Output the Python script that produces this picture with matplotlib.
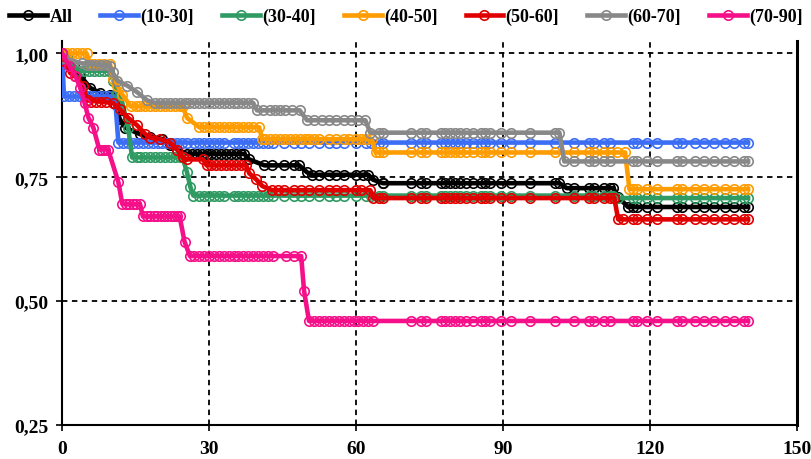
import matplotlib
matplotlib.use('Agg')
import matplotlib.pyplot as plt
from matplotlib.lines import Line2D

labels = ['All', '(10-30]', '(30-40]', '(40-50]', '(50-60]', '(60-70]', '(70-90]']
colors = ['#000000', '#3c6ef5', '#2f9a62', '#ff9c00', '#e10000', '#888888', '#f5108a']

x_ticks = [0, 30, 60, 90, 120, 150]
y_ticks = [0.25, 0.50, 0.75, 1.00]

late_a = [64.6, 65.6, 71.3, 73.3, 74.3, 77.4, 78.2, 79.2, 80.2, 81.2, 82.5, 83.9,
          85.5, 86.3, 87.3, 89.5, 91.6, 95.4, 100.5]
late_b = [104.5, 107.6, 108.6, 110.5, 111.9]
late_c = [116.5, 117.4, 119.4, 121.4, 125.4, 126.5, 129.1, 131.1, 133.1, 135.2,
          137.2, 139.2]

# ---- All ----
all_t = [0, 1, 2.5, 3.7, 5.8, 7.8, 9.8, 10.8, 11.8, 12.9, 15.9, 18, 20.5, 22, 23.5,
         25.5, 37.2, 38.2, 41.3, 48.4, 50, 51, 62.5, 63.5, 65.5, 101.5, 103, 112.5,
         113.5, 115.5, 140]
all_s = [1.0, 0.99, 0.975, 0.955, 0.93, 0.92, 0.917, 0.897, 0.867, 0.85, 0.837, 0.832,
         0.827, 0.816, 0.806, 0.797, 0.797, 0.786, 0.774, 0.774, 0.76, 0.755, 0.755,
         0.745, 0.738, 0.738, 0.728, 0.728, 0.71, 0.69, 0.69]
all_cens = [(0.797, [26.5, 27.5, 28.5, 29.5, 30.5, 31.5, 32.5, 33.5, 34.5, 35.5, 36.5]),
            (0.774, [42.9, 45.3, 47.4]),
            (0.755, [52.4, 54.5, 55.9, 57.5, 59.9, 61.5]),
            (0.738, late_a[1:]),
            (0.728, late_b),
            (0.69, late_c)]

# ---- (10-30] ----
b_t = [0, 0.4, 10.8, 11.5, 140]
b_s = [1.0, 0.913, 0.913, 0.82, 0.82]
b_cens = [(0.913, [1.5, 2.5, 3.5, 4.5, 5.5, 6.5, 7.5, 8.5, 9.5]),
          (0.82, [12.5, 13.5, 14.5, 15.5, 16.5, 17.5, 18.5, 19.5, 20.5, 21.5, 22.5, 23.5,
                  24.5, 25.5, 27, 28, 29, 30, 31, 32, 33, 35, 36, 37, 38, 39, 40, 41, 42,
                  43, 45.3, 47.4, 48.8, 50.4, 52.4, 54.5, 55.9, 57.5, 59.9, 62, 63]),
          (0.82, late_a), (0.82, late_b), (0.82, late_c)]

# ---- (30-40] ----
g_t = [0, 1, 3.5, 9.5, 10.5, 11.3, 12.3, 13.5, 14.3, 24.6, 25.5, 26.2, 26.8, 112.5,
       113.5, 140]
g_s = [1.0, 0.99, 0.965, 0.965, 0.945, 0.92, 0.9, 0.85, 0.79, 0.79, 0.76, 0.73, 0.713,
       0.713, 0.708, 0.708]
g_cens = [(0.965, [4.5, 5.5, 6.5, 7.5, 8.5]),
          (0.79, [15.2, 16, 17, 18, 19, 20, 21, 22, 23, 24]),
          (0.713, [28, 29, 30, 31, 32, 33, 35, 36, 37, 38, 39, 40, 41, 42, 43, 45.3,
                   47.4, 48.8, 50.4, 52.4, 54.5, 55.9, 57.5, 59.9, 62, 63]),
          (0.713, late_a), (0.713, late_b), (0.708, late_c)]

# ---- (40-50] ----
o_t = [0, 5.0, 5.7, 9.8, 10.4, 11.3, 12.3, 14, 24.6, 25.5, 28, 40.2, 40.9, 63.2, 64,
       114.9, 115.8, 140]
o_s = [1.0, 1.0, 0.978, 0.978, 0.948, 0.935, 0.917, 0.893, 0.893, 0.87, 0.851, 0.851,
       0.827, 0.827, 0.80, 0.80, 0.726, 0.726]
o_cens = [(1.0, [1, 2, 3, 4]),
          (0.978, [6.5, 7.5, 8.5]),
          (0.893, [15, 16, 17, 18, 19, 20, 21, 22, 23, 24]),
          (0.851, [29, 30, 31, 32, 33, 34, 35, 36, 37, 38, 39]),
          (0.827, [41.5, 42.5, 43.5, 44.5, 45.5, 46.5, 47.5, 48.5, 49.5, 50.5, 51.5, 52.5,
                   54.5, 55.9, 57.5, 58.5, 59.9, 61, 62]),
          (0.80, late_a), (0.80, late_b + [113.3]), (0.726, late_c)]

# ---- (50-60] ----
r_t = [0, 0.5, 1.7, 2.7, 4.2, 5.2, 10.4, 11.8, 13.5, 15.3, 17, 18, 20, 22, 23.5, 24.6,
       25.5, 28.8, 29.5, 37.6, 38.2, 39.6, 40.9, 42.9, 62.9, 63.5, 112.7, 113.5, 140]
r_s = [1.0, 0.985, 0.96, 0.955, 0.935, 0.905, 0.9, 0.887, 0.87, 0.855, 0.837, 0.83,
       0.827, 0.82, 0.806, 0.79, 0.786, 0.786, 0.774, 0.774, 0.758, 0.746, 0.732, 0.724,
       0.724, 0.708, 0.708, 0.665, 0.665]
r_cens = [(0.902, [6, 7, 8, 9]),
          (0.774, [30.5, 31.5, 32.5, 33.5, 34.5, 35.5, 36.5]),
          (0.724, [44, 45.3, 47.4, 48.8, 50.4, 52.4, 54.5, 55.9, 57.5, 59.9, 61]),
          (0.708, late_a), (0.708, late_b), (0.665, [114.5] + late_c)]

# ---- (60-70] ----
y_t = [0, 0.5, 4, 9.7, 10.3, 11.3, 13.3, 15.3, 17.4, 19, 39, 39.8, 48.5, 50, 61.9, 62.9,
       101.5, 102.5, 140]
y_s = [1.0, 0.99, 0.98, 0.975, 0.962, 0.945, 0.935, 0.922, 0.905, 0.90, 0.90, 0.885,
       0.885, 0.865, 0.865, 0.84, 0.84, 0.782, 0.782]
y_cens = [(0.977, [5, 6, 7, 8, 9]),
          (0.90, [20, 21, 22, 23, 24, 25, 26, 27, 28, 29, 30, 31, 32, 33, 34, 35, 36, 37,
                  38]),
          (0.885, [41, 42.5, 43.5, 44.5, 45.5, 47]),
          (0.865, [51.5, 53, 54.5, 56, 57.5, 59, 60.5]),
          (0.84, late_a), (0.782, late_b), (0.782, late_c)]

# ---- (70-90] ----
p_t = [0, 1.5, 2.7, 3.75, 4.6, 5.4, 6.4, 7.6, 9.4, 11.5, 12.3, 15.9, 16.5, 24.0, 25.0,
       26.1, 48.8, 49.4, 50.4, 140]
p_s = [1.0, 0.975, 0.955, 0.93, 0.90, 0.87, 0.85, 0.806, 0.806, 0.74, 0.696, 0.696,
       0.671, 0.671, 0.62, 0.591, 0.591, 0.52, 0.46, 0.46]
p_cens = [(0.806, [8.2, 8.8]),
          (0.696, [13, 13.7, 14.4, 15.1]),
          (0.671, [17.3, 18, 18.7, 19.4, 20.1, 20.8, 21.5, 22.2, 22.9, 23.5]),
          (0.591, [27, 28, 29, 30, 31, 32, 33, 34, 35, 36, 37, 38, 39, 40, 41, 42, 43,
                   45.7, 47.4]),
          (0.46, [51.5, 52.5, 53.5, 54.5, 55.5, 56.5, 57.5, 58.5, 59.5, 60.5, 61.5, 62.5,
                  63.5]),
          (0.46, late_a[2:]), (0.46, late_b), (0.46, late_c)]

series = [(all_t, all_s, all_cens), (b_t, b_s, b_cens), (g_t, g_s, g_cens),
          (o_t, o_s, o_cens), (r_t, r_s, r_cens), (y_t, y_s, y_cens),
          (p_t, p_s, p_cens)]

plt.rcParams['font.family'] = ['Liberation Serif', 'DejaVu Serif']
plt.rcParams['font.weight'] = 'bold'

fig = plt.figure(figsize=(8.12, 4.60), dpi=100)
ax = fig.add_axes([0.0764, 0.0739, 0.9052, 0.8348])

LW = 3.3
MS = 6.8
MEW = 1.2
for (t, s, cens), lab, col in zip(series, labels, colors):
    ax.plot(t, s, color=col, lw=LW, marker='o', ms=MS, mfc='none', mec=col, mew=MEW,
            solid_joinstyle='round', zorder=3)
    for lvl, times in cens:
        ax.plot(times, [lvl] * len(times), linestyle='none', marker='o', ms=MS,
                mfc='none', mec=col, mew=MEW, zorder=3)

ax.set_xlim(0, 150)
ax.set_ylim(0.25, 1.025)
ax.set_xticks(x_ticks)
ax.set_yticks(y_ticks)
ax.set_xticklabels([str(v) for v in x_ticks])
ax.set_yticklabels([f"{v:.2f}".replace('.', ',') for v in y_ticks])
ax.tick_params(axis='both', labelsize=14, direction='out', length=4, width=1.2,
               colors='black')
ax.tick_params(axis='x', pad=7)
ax.tick_params(axis='y', pad=6)
for lab in ax.get_xticklabels() + ax.get_yticklabels():
    lab.set_fontweight('bold')

for v in [30, 60, 90, 120]:
    ax.axvline(v, color='black', lw=1.3, ls=(0, (3, 2.5)), zorder=1)
for v in [0.5, 0.75, 1.0]:
    ax.axhline(v, color='black', lw=1.3, ls=(0, (3, 2.5)), zorder=1)

ax.spines['top'].set_visible(False)
for side in ['left', 'bottom']:
    ax.spines[side].set_linewidth(1.5)
ax.spines['right'].set_linewidth(2.2)

handles = [Line2D([0], [0], color=c, lw=LW, marker='o', ms=MS, mfc='none', mec=c,
                  mew=MEW) for c in colors]
fig.legend(handles, labels, loc='center', bbox_to_anchor=(0.5, 0.962), ncol=7,
           frameon=False, handlelength=2.1, handletextpad=0.12, columnspacing=1.55,
           borderpad=0.1, prop={'size': 13, 'weight': 'bold'})

fig.savefig('out.png', dpi=100)
